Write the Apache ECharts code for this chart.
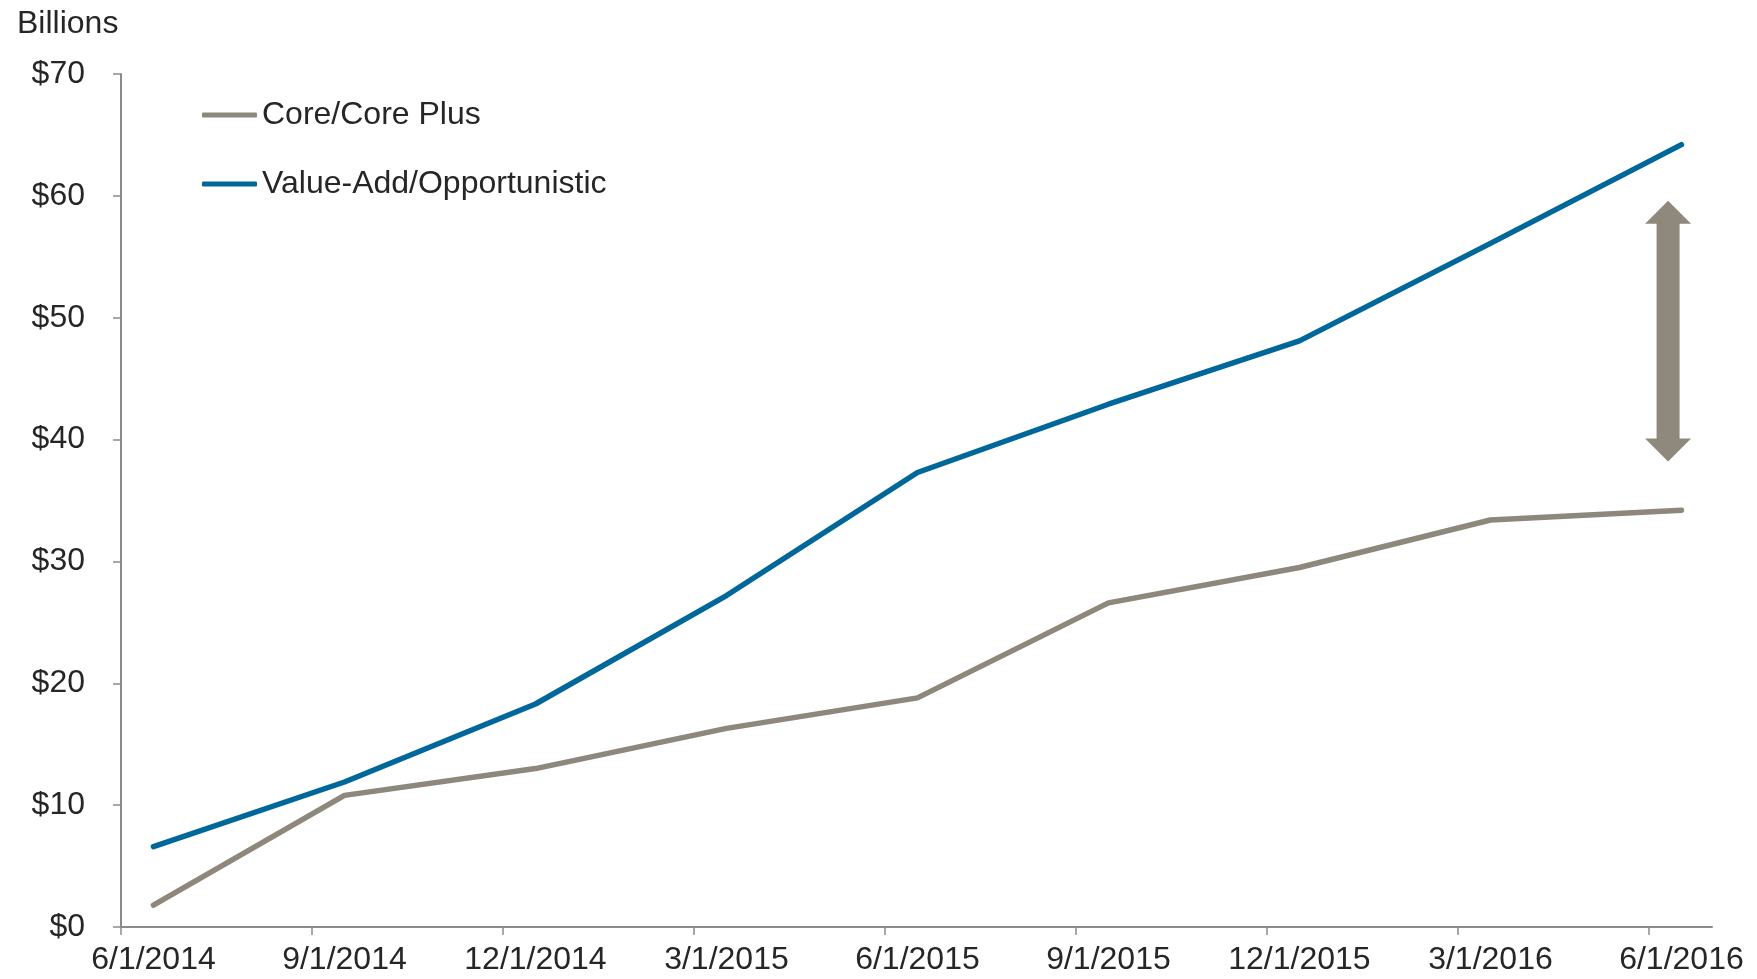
<!DOCTYPE html>
<html>
<head>
<meta charset="utf-8">
<title>Core vs Value-Add</title>
<script src="https://cdn.jsdelivr.net/npm/echarts@6/dist/echarts.min.js"></script>
<style>
  html, body { margin: 0; padding: 0; background: #fff; }
  #chart { width: 1757px; height: 979px; }
</style>
</head>
<body>
<div id="chart"></div>
<script>
// quarterly dates on the x axis
const categories = ['6/1/2014', '9/1/2014', '12/1/2014', '3/1/2015', '6/1/2015',
  '9/1/2015', '12/1/2015', '3/1/2016', '6/1/2016'];
// billions of dollars
const coreValues = [1.8, 10.8, 13.0, 16.3, 18.8, 26.6, 29.5, 33.4, 34.2];
const valueAddValues = [6.6, 11.9, 18.3, 27.2, 37.3, 42.9, 48.1, 56.1, 64.2];
const yTicks = [0, 10, 20, 30, 40, 50, 60, 70];
// gap marker: from / to (billions)
const gapRange = [38.2, 59.6];

const FONT = '"Liberation Sans", Arial, sans-serif';
const GRAY = '#8e877c';
const BLUE = '#00679a';
// points sit a little after each quarter tick
const shift = 0.17;

const toPoints = (vals) => vals.map((v, i) => [i + shift, v]);

const myChart = echarts.init(document.getElementById('chart'));

myChart.setOption({
  animation: false,
  textStyle: { fontFamily: FONT },
  title: {
    text: 'Billions',
    left: 12,
    top: 3,
    textStyle: { fontFamily: FONT, fontSize: 32, fontWeight: 'normal', color: '#262626' }
  },
  legend: {
    orient: 'vertical',
    left: 197,
    top: 94,
    itemWidth: 55,
    itemHeight: 5,
    itemGap: 37,
    icon: 'roundRect',
    textStyle: { fontFamily: FONT, fontSize: 32, color: '#262626' },
    data: ['Core/Core Plus', 'Value-Add/Opportunistic']
  },
  grid: {
    left: 121,
    right: 45,
    top: 74,
    bottom: 52,
    containLabel: false
  },
  xAxis: {
    type: 'value',
    min: 0,
    max: 8.33,
    axisLine: { show: true, lineStyle: { color: '#8a8a8a', width: 2 } },
    axisTick: {
      show: true,
      length: 8,
      lineStyle: { color: '#8a8a8a', width: 1.5 },
      customValues: categories.map((c, i) => i)
    },
    axisLabel: {
      fontFamily: FONT,
      fontSize: 32,
      color: '#262626',
      margin: 17,
      customValues: categories.map((c, i) => i + shift),
      formatter: (v) => categories[Math.round(v - shift)] || ''
    },
    splitLine: { show: false }
  },
  yAxis: {
    type: 'value',
    min: yTicks[0],
    max: yTicks[yTicks.length - 1],
    interval: 10,
    axisLine: { show: true, lineStyle: { color: '#8a8a8a', width: 2 } },
    axisTick: { show: true, length: 8, lineStyle: { color: '#8a8a8a', width: 1.5 } },
    axisLabel: {
      fontFamily: FONT,
      fontSize: 32,
      color: '#262626',
      margin: 36,
      formatter: (v) => '$' + v
    },
    splitLine: { show: false }
  },
  series: [
    {
      name: 'Core/Core Plus',
      type: 'line',
      data: toPoints(coreValues),
      symbol: 'none',
      color: GRAY,
      lineStyle: { width: 5.5, color: GRAY, cap: 'round', join: 'round' }
    },
    {
      name: 'Value-Add/Opportunistic',
      type: 'line',
      data: toPoints(valueAddValues),
      symbol: 'none',
      color: BLUE,
      lineStyle: { width: 5.5, color: BLUE, cap: 'round', join: 'round' }
    },
    {
      // double-headed arrow showing the gap
      type: 'custom',
      silent: true,
      data: [[8.10, gapRange[0], gapRange[1]]],
      encode: { x: 0, y: [1, 2] },
      renderItem: function (params, api) {
        const lo = api.coord([api.value(0), api.value(1)]);
        const hi = api.coord([api.value(0), api.value(2)]);
        const cx = hi[0], ty = hi[1], by = lo[1];
        const hw = 23, hh = 23, sw = 11.5;
        return {
          type: 'polygon',
          shape: {
            points: [
              [cx, ty], [cx + hw, ty + hh], [cx + sw, ty + hh],
              [cx + sw, by - hh], [cx + hw, by - hh], [cx, by],
              [cx - hw, by - hh], [cx - sw, by - hh], [cx - sw, ty + hh],
              [cx - hw, ty + hh]
            ]
          },
          style: { fill: '#8f887d' }
        };
      }
    }
  ]
});
</script>
</body>
</html>
